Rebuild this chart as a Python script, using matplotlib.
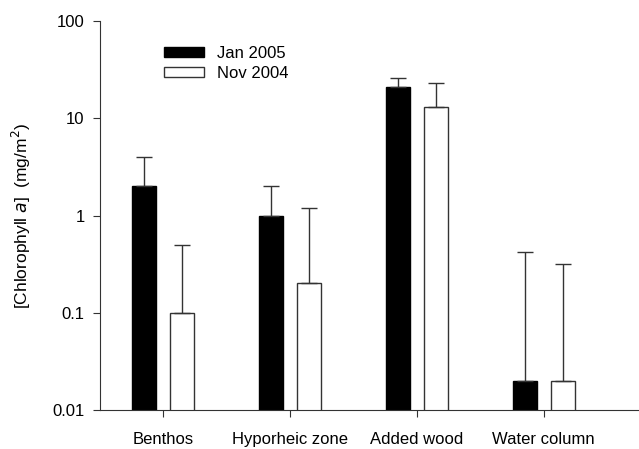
import numpy as np
import matplotlib
matplotlib.use('Agg')
import matplotlib.pyplot as plt

plt.rcParams['font.family'] = ['Liberation Sans', 'DejaVu Sans']

categories = ['Benthos', 'Hyporheic zone', 'Added wood', 'Water column']
jan_2005 = [2.0, 1.0, 21.0, 0.02]
jan_2005_upper = [4.0, 2.0, 26.0, 0.42]
nov_2004 = [0.1, 0.2, 13.0, 0.02]
nov_2004_upper = [0.5, 1.2, 23.0, 0.32]

fig = plt.figure(figsize=(6.39, 4.49), dpi=100)
ax = fig.add_axes([0.1565, 0.087, 0.843, 0.866])

x = np.arange(len(categories))
width = 0.19
offset = 0.15

jan_err = [np.zeros(4), np.array(jan_2005_upper) - np.array(jan_2005)]
nov_err = [np.zeros(4), np.array(nov_2004_upper) - np.array(nov_2004)]

ax.bar(x - offset, jan_2005, width, color='black', edgecolor='black', linewidth=1,
       label='Jan 2005', yerr=jan_err, capsize=6,
       error_kw=dict(ecolor='#333333', elinewidth=1, capthick=1))
ax.bar(x + offset, nov_2004, width, color='white', edgecolor='#333333', linewidth=1,
       label='Nov 2004', yerr=nov_err, capsize=6,
       error_kw=dict(ecolor='#333333', elinewidth=1, capthick=1))

ax.set_yscale('log')
ax.set_ylim(0.01, 100)
ax.set_xlim(-0.5, 3.75)
ax.set_yticks([0.01, 0.1, 1, 10, 100])
ax.set_yticklabels(['0.01', '0.1', '1', '10', '100'])
ax.minorticks_off()
ax.set_xticks(x)
ax.set_xticklabels(categories)

for s in ['top', 'right']:
    ax.spines[s].set_visible(False)
for s in ['left', 'bottom']:
    ax.spines[s].set_color('#333333')
ax.tick_params(axis='both', direction='out', length=5, color='#333333', labelsize=12)
ax.tick_params(axis='x', pad=11)
ax.tick_params(axis='y', pad=6)

ax.set_ylabel('[Chlorophyll $\\mathit{a}$]  (mg/m$^2$)', fontsize=12.5)
ax.yaxis.set_label_coords(-0.125, 0.5)

ax.legend(loc='upper left', bbox_to_anchor=(0.091, 0.975), frameon=False,
          handlelength=2.4, handleheight=0.6, fontsize=12, labelspacing=0.3,
          handletextpad=0.8)

fig.savefig('out.png', dpi=100)
